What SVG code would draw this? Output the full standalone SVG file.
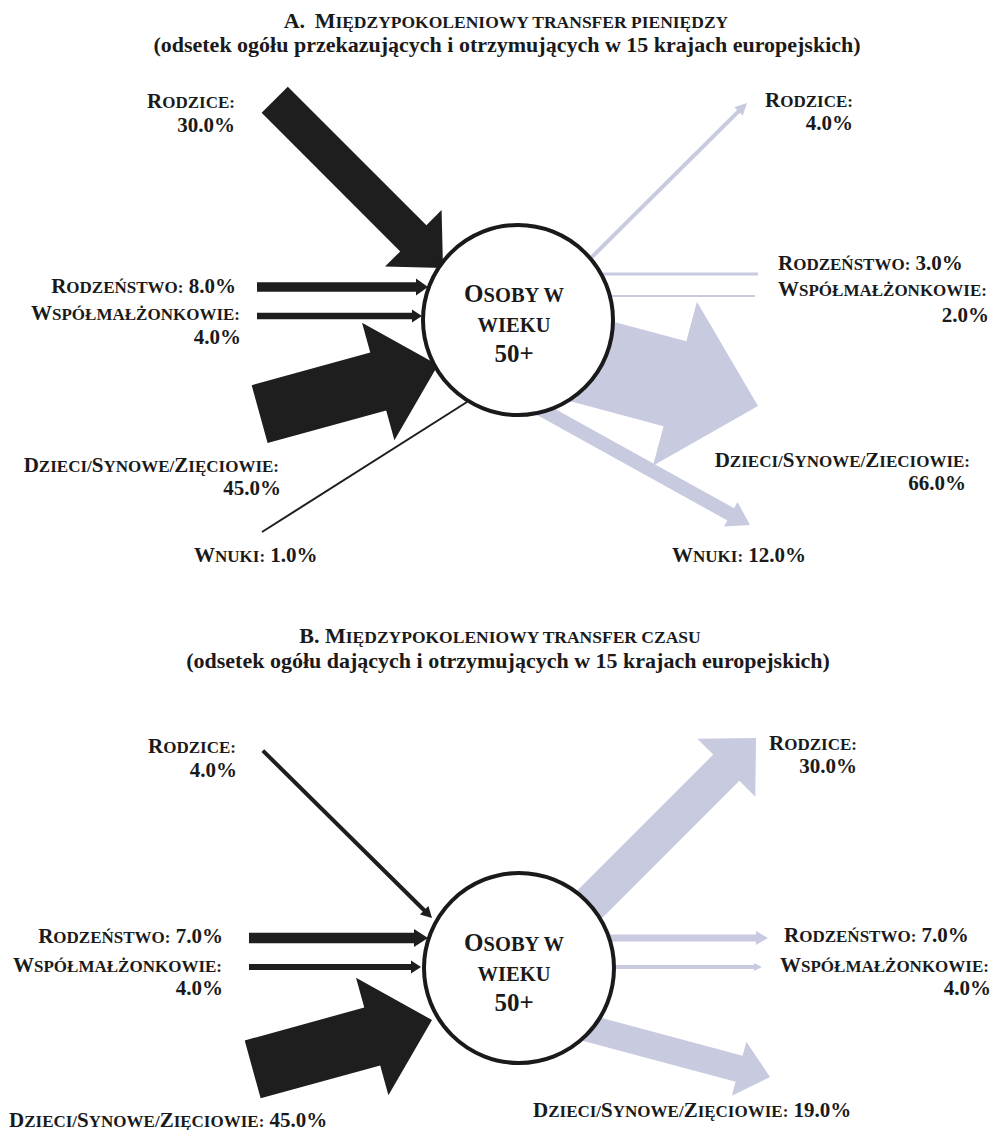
<svg xmlns="http://www.w3.org/2000/svg" width="994" height="1130" viewBox="0 0 994 1130">
<style>
text{font-family:"Liberation Serif","Times New Roman",serif;font-weight:bold;fill:#1a1a1a}
.t{font-size:22px}
.t .sc{font-size:17.5px}
.sub{font-size:22px}
.lb{font-size:21px}
.lb .sc{font-size:17px}
.ct{font-size:25px}
.ct .sc{font-size:20.5px}
.dk{fill:#1e1e1e}
.lv{fill:#c8cae0}
.dkl{stroke:#1e1e1e;fill:none}
.lvl{stroke:#c8cae0;fill:none}
.node{fill:#fff;stroke:#1a1a1a;stroke-width:4}
</style>
<rect width="994" height="1130" fill="#fff"/>

<g id="title-a">
<text class="t" x="506" y="28" text-anchor="middle">A. <tspan dx="4">M</tspan><tspan class="sc">IĘDZYPOKOLENIOWY TRANSFER PIENIĘDZY</tspan></text>
<text class="sub" x="507" y="52" text-anchor="middle">(odsetek ogółu przekazujących i otrzymujących w 15 krajach europejskich)</text>
</g>

<g id="connectors-a">
<polygon class="dk" transform="translate(443,268) rotate(45)" points="-238,-18.5 -42,-18.5 -42,-40 0,0 -42,40 -42,18.5 -238,18.5"/>
<polygon class="dk" transform="translate(428,287)" points="-171,-4.7 -12,-4.7 -12,-8.5 0,0 -12,8.5 -12,4.7 -171,4.7"/>
<polygon class="dk" transform="translate(422,316)" points="-165,-3.2 -10,-3.2 -10,-6.5 0,0 -10,6.5 -10,3.2 -165,3.2"/>
<polygon class="dk" transform="translate(438,365) rotate(-15.4)" points="-185,-30 -62,-30 -62,-61 0,0 -62,61 -62,30 -185,30"/>
<line class="dkl" x1="262" y1="532" x2="467" y2="402" stroke-width="2"/>
<polygon class="lv" transform="translate(747,103) rotate(-44.8)" points="-228,-2 -12,-2 -12,-6 0,0 -12,6 -12,2 -228,2"/>
<line class="lvl" x1="560" y1="274" x2="758" y2="274" stroke-width="3"/>
<line class="lvl" x1="560" y1="296" x2="755" y2="296" stroke-width="2"/>
<polygon class="lv" transform="translate(758,406) rotate(15)" points="-260,-44 -86,-44 -86,-85 0,0 -86,85 -86,44 -260,44"/>
<polygon class="lv" transform="translate(750,525) rotate(29)" points="-270,-7 -22,-7 -22,-14 0,0 -22,14 -22,7 -270,7"/>
</g>

<g id="node-a-center">
<circle class="node" cx="518" cy="320" r="95"/>
<text class="ct" x="514" y="302" text-anchor="middle">O<tspan class="sc">SOBY W</tspan></text>
<text class="ct" x="514" y="332" text-anchor="middle"><tspan class="sc">WIEKU</tspan></text>
<text class="ct" x="514" y="362" text-anchor="middle">50+</text>
</g>

<g id="node-a-rodzice-in">
<text class="lb" x="235" y="108" text-anchor="end">R<tspan class="sc">ODZICE:</tspan></text>
<text class="lb" x="235" y="132" text-anchor="end">30.0%</text>
</g>
<g id="node-a-rodzenstwo-in">
<text class="lb" x="236" y="293" text-anchor="end">R<tspan class="sc">ODZEŃSTWO:</tspan> 8.0%</text>
</g>
<g id="node-a-wspolmalzonkowie-in">
<text class="lb" x="240" y="320" text-anchor="end">W<tspan class="sc">SPÓŁMAŁŻONKOWIE:</tspan></text>
<text class="lb" x="241" y="344" text-anchor="end">4.0%</text>
</g>
<g id="node-a-dzieci-in">
<text class="lb" x="279" y="472" text-anchor="end">D<tspan class="sc">ZIECI/</tspan>S<tspan class="sc">YNOWE/</tspan>Z<tspan class="sc">IĘCIOWIE:</tspan></text>
<text class="lb" x="281" y="495" text-anchor="end">45.0%</text>
</g>
<g id="node-a-wnuki-in">
<text class="lb" x="194" y="562">W<tspan class="sc">NUKI:</tspan> 1.0%</text>
</g>

<g id="node-a-rodzice-out">
<text class="lb" x="853" y="107" text-anchor="end">R<tspan class="sc">ODZICE:</tspan></text>
<text class="lb" x="853" y="130" text-anchor="end">4.0%</text>
</g>
<g id="node-a-rodzenstwo-out">
<text class="lb" x="778" y="270">R<tspan class="sc">ODZEŃSTWO:</tspan> 3.0%</text>
</g>
<g id="node-a-wspolmalzonkowie-out">
<text class="lb" x="778" y="296">W<tspan class="sc">SPÓŁMAŁŻONKOWIE:</tspan></text>
<text class="lb" x="989" y="322" text-anchor="end">2.0%</text>
</g>
<g id="node-a-dzieci-out">
<text class="lb" x="970" y="467" text-anchor="end">D<tspan class="sc">ZIECI/</tspan>S<tspan class="sc">YNOWE/</tspan>Z<tspan class="sc">IECIOWIE:</tspan></text>
<text class="lb" x="966" y="490" text-anchor="end">66.0%</text>
</g>
<g id="node-a-wnuki-out">
<text class="lb" x="672" y="562">W<tspan class="sc">NUKI:</tspan> 12.0%</text>
</g>

<g id="title-b">
<text class="t" x="500" y="643" text-anchor="middle">B. M<tspan class="sc">IĘDZYPOKOLENIOWY TRANSFER CZASU</tspan></text>
<text class="sub" x="508" y="668" text-anchor="middle">(odsetek ogółu dających i otrzymujących w 15 krajach europejskich)</text>
</g>

<g id="connectors-b">
<polygon class="dk" transform="translate(432,918) rotate(44.7)" points="-238,-2 -11,-2 -11,-6 0,0 -11,6 -11,2 -238,2"/>
<polygon class="dk" transform="translate(428,938)" points="-179,-5.3 -14,-5.3 -14,-9 0,0 -14,9 -14,5.3 -179,5.3"/>
<polygon class="dk" transform="translate(421,967)" points="-172,-3 -10,-3 -10,-6.5 0,0 -10,6.5 -10,3 -172,3"/>
<polygon class="dk" transform="translate(432,1020) rotate(-15.4)" points="-186,-30 -62,-30 -62,-61 0,0 -62,61 -62,30 -186,30"/>
<polygon class="lv" transform="translate(756,738) rotate(-45)" points="-300,-18.5 -42,-18.5 -42,-41 0,0 -42,41 -42,18.5 -300,18.5"/>
<polygon class="lv" transform="translate(768,938)" points="-200,-3.5 -12,-3.5 -12,-7 0,0 -12,7 -12,3.5 -200,3.5"/>
<polygon class="lv" transform="translate(762,967)" points="-195,-2 -8,-2 -8,-4 0,0 -8,4 -8,2 -195,2"/>
<polygon class="lv" transform="translate(770,1077) rotate(15)" points="-260,-13.5 -32,-13.5 -32,-28 0,0 -32,28 -32,13.5 -260,13.5"/>
</g>

<g id="node-b-center">
<circle class="node" cx="519" cy="968" r="95"/>
<text class="ct" x="514" y="951" text-anchor="middle">O<tspan class="sc">SOBY W</tspan></text>
<text class="ct" x="514" y="981" text-anchor="middle"><tspan class="sc">WIEKU</tspan></text>
<text class="ct" x="514" y="1011" text-anchor="middle">50+</text>
</g>

<g id="node-b-rodzice-in">
<text class="lb" x="236" y="753" text-anchor="end">R<tspan class="sc">ODZICE:</tspan></text>
<text class="lb" x="237" y="777" text-anchor="end">4.0%</text>
</g>
<g id="node-b-rodzenstwo-in">
<text class="lb" x="223" y="943" text-anchor="end">R<tspan class="sc">ODZEŃSTWO:</tspan> 7.0%</text>
</g>
<g id="node-b-wspolmalzonkowie-in">
<text class="lb" x="222" y="972" text-anchor="end">W<tspan class="sc">SPÓŁMAŁŻONKOWIE:</tspan></text>
<text class="lb" x="223" y="995" text-anchor="end">4.0%</text>
</g>
<g id="node-b-dzieci-in">
<text class="lb" x="9" y="1127">D<tspan class="sc">ZIECI/</tspan>S<tspan class="sc">YNOWE/</tspan>Z<tspan class="sc">IĘCIOWIE:</tspan> 45.0%</text>
</g>

<g id="node-b-rodzice-out">
<text class="lb" x="857" y="750" text-anchor="end">R<tspan class="sc">ODZICE:</tspan></text>
<text class="lb" x="857" y="773" text-anchor="end">30.0%</text>
</g>
<g id="node-b-rodzenstwo-out">
<text class="lb" x="784" y="942">R<tspan class="sc">ODZEŃSTWO:</tspan> 7.0%</text>
</g>
<g id="node-b-wspolmalzonkowie-out">
<text class="lb" x="780" y="972">W<tspan class="sc">SPÓŁMAŁŻONKOWIE:</tspan></text>
<text class="lb" x="991" y="995" text-anchor="end">4.0%</text>
</g>
<g id="node-b-dzieci-out">
<text class="lb" x="533" y="1117">D<tspan class="sc">ZIECI/</tspan>S<tspan class="sc">YNOWE/</tspan>Z<tspan class="sc">IĘCIOWIE:</tspan> 19.0%</text>
</g>
</svg>
